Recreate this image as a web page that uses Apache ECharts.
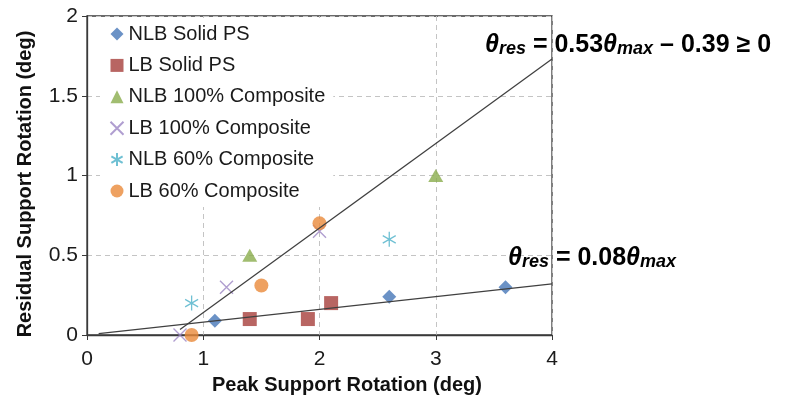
<!DOCTYPE html>
<html>
<head>
<meta charset="utf-8">
<script src="https://cdn.jsdelivr.net/npm/echarts@6/dist/echarts.min.js"></script>
<style>
  html, body { margin: 0; padding: 0; background: #fff; }
  #chart { width: 788px; height: 405px; }
</style>
</head>
<body>
<div id="chart"></div>
<script>
// Peak vs residual support rotation, one series per specimen group
const seriesNames = [
  'NLB Solid PS',
  'LB Solid PS',
  'NLB 100% Composite',
  'LB 100% Composite',
  'NLB 60% Composite',
  'LB 60% Composite'
];
const nlbSolidPS = [[1.1, 0.09], [2.6, 0.24], [3.6, 0.30]];
const lbSolidPS = [[1.4, 0.10], [1.9, 0.10], [2.1, 0.20]];
const nlb100Composite = [[1.4, 0.50], [3.0, 1.00]];
const lb100Composite = [[0.8, 0.00], [1.2, 0.30], [2.0, 0.65]];
const nlb60Composite = [[0.9, 0.20], [2.6, 0.60]];
const lb60Composite = [[0.9, 0.00], [1.5, 0.31], [2.0, 0.70]];

// Fitted relations: residual = slope * peak + intercept, drawn over [from, to]
const upperFit = { slope: 0.53, intercept: -0.39, from: 0.8, to: 4 };
const lowerFit = { slope: 0.08, intercept: 0, from: 0.1, to: 4 };

const xTicks = [0, 1, 2, 3, 4];
const yTicks = [0, 0.5, 1, 1.5, 2];

function fitPoints(f) {
  return [f.from, f.to].map(x => [x, f.slope * x + f.intercept]);
}

const crossPath = 'path://M0,0 L10,10 M10,0 L0,10';
const asteriskPath = 'path://M5,0 L5,10 M0.67,2.5 L9.33,7.5 M0.67,7.5 L9.33,2.5';

const FONT = 'Liberation Sans, Arial, sans-serif';
const chart = echarts.init(document.getElementById('chart'), null, { renderer: 'canvas' });

const gridLine = { show: true, lineStyle: { color: '#c4c4c4', type: [5, 4], width: 1 } };

// Rich-text styles for the fit equations (bold symbols with italic subscripts)
const eqRich = {
  t: { fontFamily: FONT, fontSize: 25, fontWeight: 'bold', fontStyle: 'italic', fill: '#000', lineHeight: 25, verticalAlign: 'bottom' },
  s: { fontFamily: FONT, fontSize: 18, fontWeight: 'bold', fontStyle: 'italic', fill: '#000', lineHeight: 18, verticalAlign: 'bottom' },
  n: { fontFamily: FONT, fontSize: 25, fontWeight: 'bold', fill: '#000', lineHeight: 25, verticalAlign: 'bottom' }
};

chart.setOption({
  animation: false,
  backgroundColor: '#fff',
  grid: {
    left: 87, top: 16, right: 236, bottom: 70,
    show: true, borderColor: '#3a3a3a', borderWidth: 1.3,
    outerBoundsMode: 'none'
  },
  legend: {
    data: seriesNames,
    orient: 'vertical',
    left: 100, top: 18,
    padding: [5, 8],
    backgroundColor: '#fff',
    itemWidth: 13, itemHeight: 13,
    itemGap: 9.4,
    textStyle: { fontFamily: FONT, fontSize: 20, color: '#1a1a1a', lineHeight: 22 }
  },
  xAxis: {
    type: 'value', min: xTicks[0], max: xTicks[xTicks.length - 1], interval: 1,
    name: 'Peak Support Rotation (deg)', nameLocation: 'middle', nameGap: 40,
    nameTextStyle: { fontFamily: FONT, fontSize: 20, fontWeight: 'bold', color: '#111', padding: [0, 0, 0, 55] },
    axisLine: { show: true, onZero: false, lineStyle: { color: '#3a3a3a', width: 1.3 } },
    axisTick: { show: true, length: 5, lineStyle: { color: '#3a3a3a' } },
    axisLabel: { fontFamily: FONT, fontSize: 21, color: '#1a1a1a', margin: 14 },
    splitLine: gridLine
  },
  yAxis: {
    type: 'value', min: yTicks[0], max: yTicks[yTicks.length - 1], interval: 0.5,
    name: 'Residual Support Rotation (deg)', nameLocation: 'middle', nameGap: 52,
    nameTextStyle: { fontFamily: FONT, fontSize: 20, fontWeight: 'bold', color: '#111', padding: [0, 17, 0, 0] },
    axisLine: { show: true, onZero: false, lineStyle: { color: '#3a3a3a', width: 1.3 } },
    axisTick: { show: true, length: 5, lineStyle: { color: '#3a3a3a' } },
    axisLabel: { fontFamily: FONT, fontSize: 21, color: '#1a1a1a', margin: 9 },
    splitLine: gridLine
  },
  series: [
    {
      name: 'upper fit', type: 'line', data: fitPoints(upperFit), symbol: 'none', silent: true,
      lineStyle: { color: '#404040', width: 1.3 }, z: 3
    },
    {
      name: 'lower fit', type: 'line', data: fitPoints(lowerFit), symbol: 'none', silent: true,
      lineStyle: { color: '#404040', width: 1.3 }, z: 3
    },
    {
      name: seriesNames[0], type: 'scatter', data: nlbSolidPS, symbol: 'diamond', symbolSize: 14,
      itemStyle: { color: '#4677b8' }
    },
    {
      name: seriesNames[1], type: 'scatter', data: lbSolidPS, symbol: 'rect', symbolSize: 14,
      itemStyle: { color: '#a63e3b' }
    },
    {
      name: seriesNames[2], type: 'scatter', data: nlb100Composite, symbol: 'triangle', symbolSize: [15, 13],
      itemStyle: { color: '#8aac4c' }
    },
    {
      name: seriesNames[3], type: 'scatter', data: lb100Composite, symbol: crossPath, symbolSize: 13,
      itemStyle: { color: 'none', borderColor: '#9c86c4', borderWidth: 1.4 }
    },
    {
      name: seriesNames[4], type: 'scatter', data: nlb60Composite, symbol: asteriskPath, symbolSize: [13, 15],
      itemStyle: { color: 'none', borderColor: '#4bb0c8', borderWidth: 1.4 }
    },
    {
      name: seriesNames[5], type: 'scatter', data: lb60Composite, symbol: 'circle', symbolSize: 14,
      itemStyle: { color: '#ea8a3a' }
    }
  ],
  graphic: [
    {
      type: 'text', left: 485, top: 33, z: 10,
      style: { text: '{t|θ}{s|res}{n| = 0.53}{t|θ}{s|max}{n| – 0.39 ≥ 0}', rich: eqRich }
    },
    {
      type: 'text', left: 508, top: 246, z: 10,
      style: { text: '{t|θ}{s|res}{n| = 0.08}{t|θ}{s|max}', rich: eqRich }
    }
  ]
});
</script>
</body>
</html>
